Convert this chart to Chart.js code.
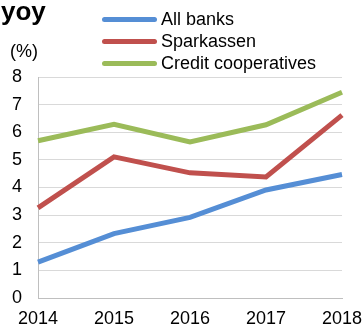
<!DOCTYPE html>
<html>
<head>
<meta charset="utf-8">
<script src="https://cdn.jsdelivr.net/npm/chart.js@4"></script>
<style>
    html, body { margin: 0; padding: 0; background: #fff; }
    #wrap { position: relative; width: 363px; height: 328px; font-family: 'Liberation Sans', Arial, sans-serif; color: #000; }
    #chart { position: absolute; left: 0; top: 0; }
    .title { position: absolute; left: 1px; top: -4px; font-size: 26px; font-weight: bold; }
    .unit { position: absolute; left: 10px; top: 41px; font-size: 18px; }
    .legend { position: absolute; left: 102px; top: 8px; font-size: 18px; }
    .legend div { height: 22px; line-height: 22px; white-space: nowrap; }
    .legend span.swatch { display: inline-block; width: 55px; height: 5px; border-radius: 3px; vertical-align: middle; margin-right: 4px; position: relative; top: -1px; }
</style>
</head>
<body>
<div id="wrap">
    <canvas id="chart" width="363" height="328"></canvas>
    <div class="title">yoy</div>
    <div class="unit">(%)</div>
    <div class="legend" id="legend"></div>
</div>
<script>
// data
const years = ['2014', '2015', '2016', '2017', '2018'];
const allBanks = [1.30, 2.33, 2.92, 3.91, 4.47];
const sparkassen = [3.26, 5.11, 4.53, 4.38, 6.62];
const creditCoops = [5.69, 6.29, 5.65, 6.27, 7.45];

const seriesNames = ['All banks', 'Sparkassen', 'Credit cooperatives'];
const seriesColors = ['#558ed5', '#c0504d', '#9bbb59'];

/**
 * Build the HTML legend (stacked rows)
 */
function buildLegend() {
    const box = document.getElementById('legend');
    seriesNames.forEach((name, i) => {
        const row = document.createElement('div');
        const sw = document.createElement('span');
        sw.className = 'swatch';
        sw.style.background = seriesColors[i];
        row.appendChild(sw);
        row.appendChild(document.createTextNode(name));
        box.appendChild(row);
    });
}

function makeDataset(label, data, color) {
    return {
        label: label,
        data: data,
        borderColor: color,
        backgroundColor: color,
        borderWidth: 5,
        pointRadius: 0,
        tension: 0,
        borderCapStyle: 'butt',
        borderJoinStyle: 'miter'
    };
}

buildLegend();

new Chart(document.getElementById('chart'), {
    type: 'line',
    data: {
        labels: years,
        datasets: [
            makeDataset(seriesNames[2], creditCoops, seriesColors[2]),
            makeDataset(seriesNames[1], sparkassen, seriesColors[1]),
            makeDataset(seriesNames[0], allBanks, seriesColors[0])
        ]
    },
    options: {
        responsive: false,
        animation: false,
        layout: {
            padding: { left: 0, top: 77, right: 21, bottom: 0 }
        },
        plugins: {
            legend: { display: false },
            tooltip: { enabled: false }
        },
        scales: {
            x: {
                offset: false,
                grid: { display: false, drawTicks: false },
                border: { display: true, color: '#bfbfbf', width: 1 },
                ticks: {
                    color: '#000',
                    padding: 10,
                    maxRotation: 0,
                    autoSkip: false,
                    font: { family: 'Liberation Sans', size: 18 }
                },
                afterFit: (scale) => {
                    scale.height = 30;
                    scale.paddingLeft = 0;
                    scale.paddingRight = 0;
                }
            },
            y: {
                min: 0,
                max: 8,
                grid: { color: '#d9d9d9', lineWidth: 1, drawTicks: false },
                border: { display: true, color: '#bfbfbf', width: 1 },
                ticks: {
                    stepSize: 1,
                    color: '#000',
                    padding: 16,
                    font: { family: 'Liberation Sans', size: 18 }
                },
                afterFit: (scale) => {
                    scale.width = 38;
                    scale.paddingTop = 0;
                    scale.paddingBottom = 0;
                }
            }
        }
    }
});
</script>
</body>
</html>
